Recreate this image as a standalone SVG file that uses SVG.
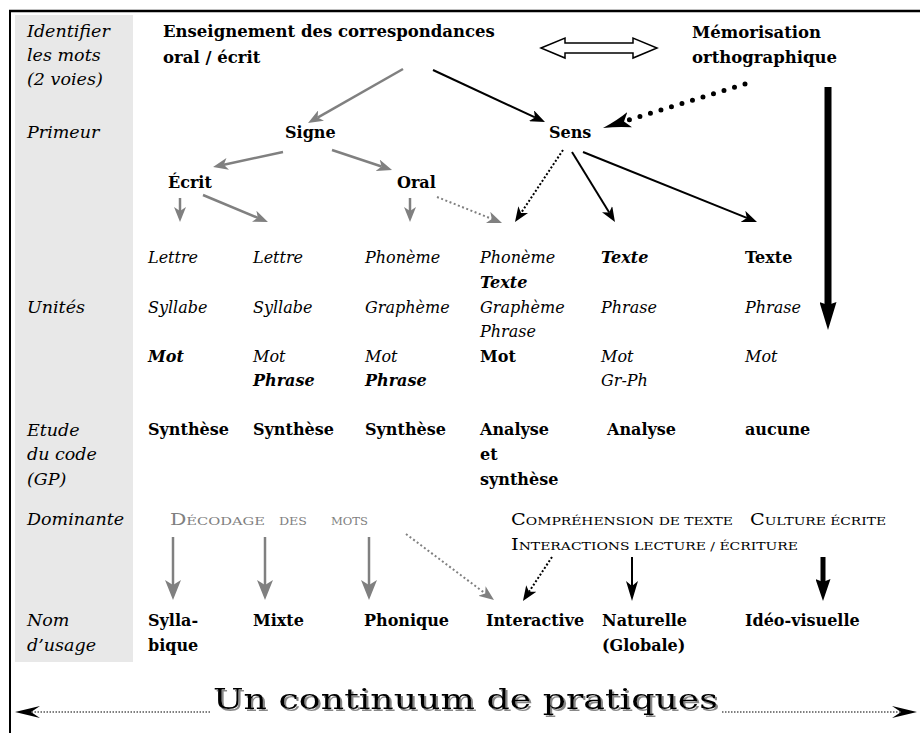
<svg xmlns="http://www.w3.org/2000/svg" width="920" height="733" viewBox="0 0 920 733">
<style>
text{font-family:"DejaVu Serif","Liberation Serif",serif;fill:#000}
.l{font-style:italic;font-size:17.5px}
.i{font-style:italic;font-size:16px}
.b{font-weight:bold;font-size:16px}
.bi{font-weight:bold;font-style:italic;font-size:16px}
.t{font-weight:bold;font-size:16.5px}
.g{fill:#808080}
.sc{font-size:16px}
.scs{font-size:11.5px}
.gl{stroke:#808080;stroke-width:2.5;fill:none}
.bl{stroke:#000;stroke-width:2;fill:none}
.gd{stroke:#808080;stroke-width:2;stroke-dasharray:2 2.5;fill:none}
.bd{stroke:#000;stroke-width:2;stroke-dasharray:2 2;fill:none}
</style>
<defs>
<filter id="shadow" x="-5%" y="-30%" width="110%" height="160%">
<feOffset in="SourceAlpha" dx="2" dy="2" result="o"/>
<feFlood flood-color="#888"/>
<feComposite in2="o" operator="in" result="s"/>
<feMerge><feMergeNode in="s"/><feMergeNode in="SourceGraphic"/></feMerge>
</filter>
<marker id="ag" markerUnits="userSpaceOnUse" viewBox="0 0 15 12" markerWidth="15" markerHeight="12" refX="4" refY="6" orient="auto"><path d="M0,0L15,6L0,12L4,6z" fill="#808080"/></marker>
<marker id="agL" markerUnits="userSpaceOnUse" viewBox="0 0 20 16" markerWidth="20" markerHeight="16" refX="5" refY="8" orient="auto"><path d="M0,0L20,8L0,16L5,8z" fill="#808080"/></marker>
<marker id="ab" markerUnits="userSpaceOnUse" viewBox="0 0 15 12" markerWidth="15" markerHeight="12" refX="4" refY="6" orient="auto"><path d="M0,0L15,6L0,12L4,6z" fill="#000"/></marker>
<marker id="abL" markerUnits="userSpaceOnUse" viewBox="0 0 20 12" markerWidth="20" markerHeight="12" refX="5" refY="6" orient="auto"><path d="M0,0L20,6L0,12L5,6z" fill="#000"/></marker>
<marker id="abk" markerUnits="userSpaceOnUse" viewBox="0 0 22 15" markerWidth="22" markerHeight="15" refX="3" refY="7.5" orient="auto"><path d="M0,0L22,7.5L0,15L3,7.5z" fill="#000"/></marker>
<marker id="abig" markerUnits="userSpaceOnUse" viewBox="0 0 28 17" markerWidth="28" markerHeight="17" refX="3" refY="8.5" orient="auto"><path d="M0,0L28,8.5L0,17L3,8.5z" fill="#000"/></marker>
<marker id="adot" markerUnits="userSpaceOnUse" viewBox="0 0 28 16" markerWidth="28" markerHeight="16" refX="6" refY="8" orient="auto"><path d="M0,0Q12,5 28,8Q12,11 0,16L6,8z" fill="#000"/></marker>
<marker id="ac" markerUnits="userSpaceOnUse" viewBox="0 0 25 12" markerWidth="25" markerHeight="12" refX="9" refY="6" orient="auto"><path d="M0,0L25,6L0,12L9,6z" fill="#000"/></marker>
</defs>

<g id="frame">
<rect x="15" y="15" width="118" height="647" fill="#e8e8e8"/>
<line x1="9" y1="11" x2="920" y2="11" stroke="#000" stroke-width="2.5"/>
<line x1="10" y1="10" x2="10" y2="733" stroke="#000" stroke-width="2"/>
</g>

<g id="row-labels">
<text class="l" x="27" y="37">Identifier</text>
<text class="l" x="27" y="61">les mots</text>
<text class="l" x="27" y="85">(2 voies)</text>
<text class="l" x="27" y="138">Primeur</text>
<text class="l" x="27" y="313">Unités</text>
<text class="l" x="27" y="436">Etude</text>
<text class="l" x="27" y="460">du code</text>
<text class="l" x="27" y="485">(GP)</text>
<text class="l" x="27" y="525">Dominante</text>
<text class="l" x="27" y="626">Nom</text>
<text class="l" x="27" y="651">d’usage</text>
</g>

<g id="n-enseignement"><text class="t" x="163" y="37">Enseignement des correspondances</text><text class="t" x="163" y="63">oral / écrit</text></g>
<g id="n-memorisation"><text class="t" x="692" y="38">Mémorisation</text><text class="t" x="692" y="63">orthographique</text></g>
<g id="n-signe"><text class="b" x="285" y="138">Signe</text></g>
<g id="n-sens"><text class="b" x="549" y="138">Sens</text></g>
<g id="n-ecrit"><text class="b" x="168" y="188">Écrit</text></g>
<g id="n-oral"><text class="b" x="397" y="188">Oral</text></g>

<g id="col1"><text class="i" x="148" y="263">Lettre</text><text class="i" x="148" y="313">Syllabe</text><text class="bi" x="148" y="362">Mot</text><text class="b" x="148" y="435">Synthèse</text><text class="b" x="148" y="626">Sylla-</text><text class="b" x="148" y="651">bique</text></g>
<g id="col2"><text class="i" x="253" y="263">Lettre</text><text class="i" x="253" y="313">Syllabe</text><text class="i" x="253" y="362">Mot</text><text class="bi" x="253" y="386">Phrase</text><text class="b" x="253" y="435">Synthèse</text><text class="b" x="253" y="626">Mixte</text></g>
<g id="col3"><text class="i" x="365" y="263">Phonème</text><text class="i" x="365" y="313">Graphème</text><text class="i" x="365" y="362">Mot</text><text class="bi" x="365" y="386">Phrase</text><text class="b" x="365" y="435">Synthèse</text><text class="b" x="364" y="626">Phonique</text></g>
<g id="col4"><text class="i" x="480" y="263">Phonème</text><text class="bi" x="480" y="288">Texte</text><text class="i" x="480" y="313">Graphème</text><text class="i" x="480" y="337">Phrase</text><text class="b" x="480" y="362">Mot</text><text class="b" x="480" y="435">Analyse</text><text class="b" x="480" y="460">et</text><text class="b" x="480" y="485">synthèse</text><text class="b" x="486" y="626">Interactive</text></g>
<g id="col5"><text class="bi" x="601" y="263">Texte</text><text class="i" x="601" y="313">Phrase</text><text class="i" x="601" y="362">Mot</text><text class="i" x="601" y="386">Gr-Ph</text><text class="b" x="607" y="435">Analyse</text><text class="b" x="602" y="626">Naturelle</text><text class="b" x="602" y="651">(Globale)</text></g>
<g id="col6"><text class="b" x="745" y="263">Texte</text><text class="i" x="745" y="313">Phrase</text><text class="i" x="745" y="362">Mot</text><text class="b" x="745" y="435">aucune</text><text class="b" x="745" y="626">Idéo-visuelle</text></g>

<g id="n-decodage">
<text class="sc g" x="170" y="525" textLength="95" lengthAdjust="spacingAndGlyphs">D<tspan class="scs">ÉCODAGE</tspan></text>
<text class="scs g" x="279" y="525" textLength="28" lengthAdjust="spacingAndGlyphs">DES</text>
<text class="scs g" x="331" y="525" textLength="37" lengthAdjust="spacingAndGlyphs">MOTS</text>
</g>
<g id="n-comprehension">
<text class="sc" x="511" y="525" textLength="222" lengthAdjust="spacingAndGlyphs">C<tspan class="scs">OMPRÉHENSION DE TEXTE</tspan></text>
<text class="sc" x="750" y="525" textLength="136" lengthAdjust="spacingAndGlyphs">C<tspan class="scs">ULTURE ÉCRITE</tspan></text>
<text class="sc" x="511" y="550" textLength="287" lengthAdjust="spacingAndGlyphs">I<tspan class="scs">NTERACTIONS LECTURE / ÉCRITURE</tspan></text>
</g>

<g id="connectors">
<polygon points="541,48 565,38 565,43 633,43 633,38 657,48 633,58 633,53 565,53 565,58" fill="#fff" stroke="#000" stroke-width="1.5" stroke-linejoin="miter"/>
<line class="gl" x1="403" y1="69" x2="317.6" y2="117.6" marker-end="url(#ag)"/>
<line class="bl" x1="433" y1="70" x2="535" y2="117.4" marker-end="url(#ab)"/>
<line x1="745" y1="84" x2="624" y2="121.5" stroke="#000" stroke-width="5" stroke-linecap="round" stroke-dasharray="0 11" marker-end="url(#adot)"/>
<line x1="828" y1="87" x2="828" y2="305" stroke="#000" stroke-width="7" marker-end="url(#abig)"/>
<line class="gl" x1="283" y1="152" x2="223.8" y2="164.7" marker-end="url(#ag)"/>
<line class="gl" x1="332" y1="150" x2="381.6" y2="166.5" marker-end="url(#ag)"/>
<line class="gl" x1="180" y1="198" x2="180" y2="211" marker-end="url(#ag)"/>
<line class="gl" x1="203" y1="195" x2="257.8" y2="217.8" marker-end="url(#ag)"/>
<line class="gl" x1="410" y1="198" x2="410" y2="211" marker-end="url(#ag)"/>
<line class="gd" x1="437" y1="197" x2="491.8" y2="218.9" marker-end="url(#ag)"/>
<line class="bd" x1="563" y1="150" x2="521.1" y2="212.9" marker-end="url(#ab)"/>
<line class="bl" x1="572" y1="152" x2="609.2" y2="212.6" marker-end="url(#ab)"/>
<line class="bl" x1="583" y1="152" x2="746.8" y2="217.9" marker-end="url(#ab)"/>
<line class="gl" x1="173" y1="537" x2="173" y2="585" marker-end="url(#agL)"/>
<line class="gl" x1="265" y1="537" x2="265" y2="585" marker-end="url(#agL)"/>
<line class="gl" x1="369" y1="537" x2="369" y2="585" marker-end="url(#agL)"/>
<line class="gd" x1="406" y1="534" x2="485.2" y2="593.4" marker-end="url(#ag)"/>
<line class="bd" x1="552" y1="557" x2="529" y2="591.8" marker-end="url(#ab)"/>
<line class="bl" x1="632" y1="557" x2="632" y2="586" marker-end="url(#abL)"/>
<line x1="823" y1="557" x2="823" y2="582" stroke="#000" stroke-width="5" marker-end="url(#abk)"/>
<line x1="210" y1="712" x2="31" y2="712" stroke="#000" stroke-width="1.2" stroke-dasharray="1.5 1.5" marker-end="url(#ac)"/>
<line x1="722" y1="712" x2="901" y2="712" stroke="#000" stroke-width="1.2" stroke-dasharray="1.5 1.5" marker-end="url(#ac)"/>
</g>

<g id="n-continuum">
<text x="213" y="709" font-size="27" textLength="505" lengthAdjust="spacingAndGlyphs" filter="url(#shadow)">Un continuum de pratiques</text>
</g>
</svg>
